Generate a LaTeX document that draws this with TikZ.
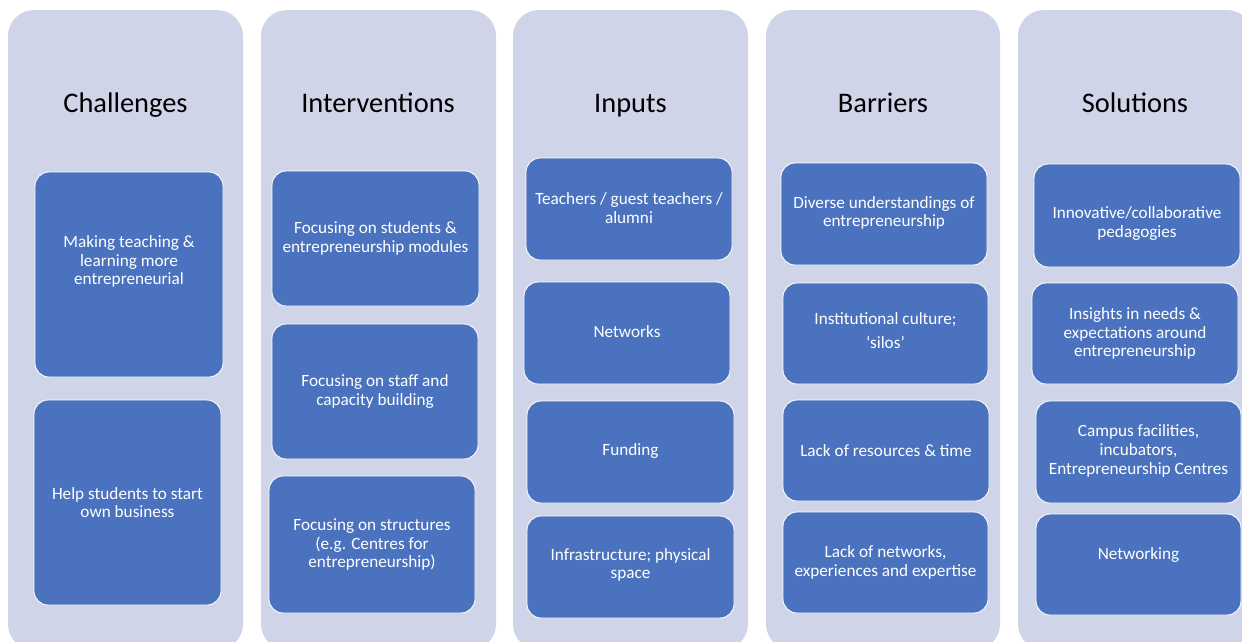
\documentclass[tikz,border=0pt]{standalone}
\usepackage{fontspec}
\setmainfont{Carlito}
\definecolor{lav}{RGB}{207,212,232}
\definecolor{bblue}{RGB}{74,114,190}
\tikzset{
  colbox/.style={fill=lav, draw=none, rounded corners=26pt, inner sep=0pt, outer sep=0pt},
  bbox/.style={fill=bblue, draw=white, line width=0.9pt, rounded corners=14pt, inner sep=0pt, outer sep=0pt},
  btext/.style={text=white, align=center, inner sep=0pt, font=\fontsize{17.2}{18.7}\selectfont},
  ttl/.style={text=black, anchor=base, inner sep=0pt, font=\fontsize{28.4}{30}\selectfont}
}
\newcommand{\colb}[3]{%
  \node[colbox, minimum width={#3-#2}, minimum height=640pt] (#1) at ({(#2+#3)/2},330) {};}
\newcommand{\bx}[7]{%
  \node[bbox, minimum width={#4-#2}, minimum height={#5-#3}] (#1) at ({(#2+#4)/2},{(#3+#5)/2}) {};
  \node[btext] (#1t) at ([yshift=-#6pt]#1.center) {#7};}
\begin{document}
\begin{tikzpicture}[x=1pt,y=-1pt]
\useasboundingbox (0,0) rectangle (1242,641);
\clip (0,0) rectangle (1242,641);
\colb{c1}{8}{243}
\colb{c2}{261}{496}
\colb{c3}{513}{748}
\colb{c4}{766}{1000}
\colb{c5}{1018}{1253}
\node[ttl] (t1) at (125.5,112) {Challenges};
\node[ttl] (t2) at (378,112) {Interventions};
\node[ttl] (t3) at (630.5,112) {Inputs};
\node[ttl] (t4) at (883,112) {Barriers};
\node[ttl] (t5) at (1135,112) {Solutions};
% Challenges
\bx{a1}{35}{172}{223}{377}{-13}{Making teaching \&\\learning more\\entrepreneurial}
\bx{a2}{34}{400}{221}{605}{0}{Help students to start\\own business}
% Interventions
\bx{b1}{272}{171}{479}{306}{0}{Focusing on students \&\\entrepreneurship modules}
\bx{b2}{272}{324}{478}{459}{0}{Focusing on staff and\\capacity building}
\bx{b3}{269}{476}{475}{613}{0}{Focusing on structures\\(e.g. Centres for\\entrepreneurship)}
% Inputs
\bx{c1b}{526}{158}{732}{260}{-1}{Teachers / guest teachers /\\alumni}
\bx{c2b}{524}{282}{730}{384}{-1}{Networks}
\bx{c3b}{527}{401}{734}{503}{-1}{Funding}
\bx{c4b}{527}{516}{734}{618}{-2}{Infrastructure; physical\\space}
% Barriers
\bx{d1}{781}{163}{987}{265}{-1}{Diverse understandings of\\entrepreneurship}
\bx{d2}{783}{283}{988}{384}{-3}{Institutional culture;\\[5pt]‘silos’}
\bx{d3}{783}{400}{989}{501}{0}{Lack of resources \& time}
\bx{d4}{783}{512}{988}{613}{0}{Lack of networks,\\experiences and expertise}
% Solutions
\bx{e1}{1034}{164}{1240}{267}{8}{Innovative/collaborative\\pedagogies}
\bx{e2}{1032}{283}{1238}{384}{0}{Insights in needs \&\\expectations around\\entrepreneurship}
\bx{e3}{1036}{401}{1241}{503}{-1}{Campus facilities,\\incubators,\\Entrepreneurship Centres}
\bx{e4}{1036}{514}{1241}{615}{-10}{Networking}
\end{tikzpicture}
\end{document}
